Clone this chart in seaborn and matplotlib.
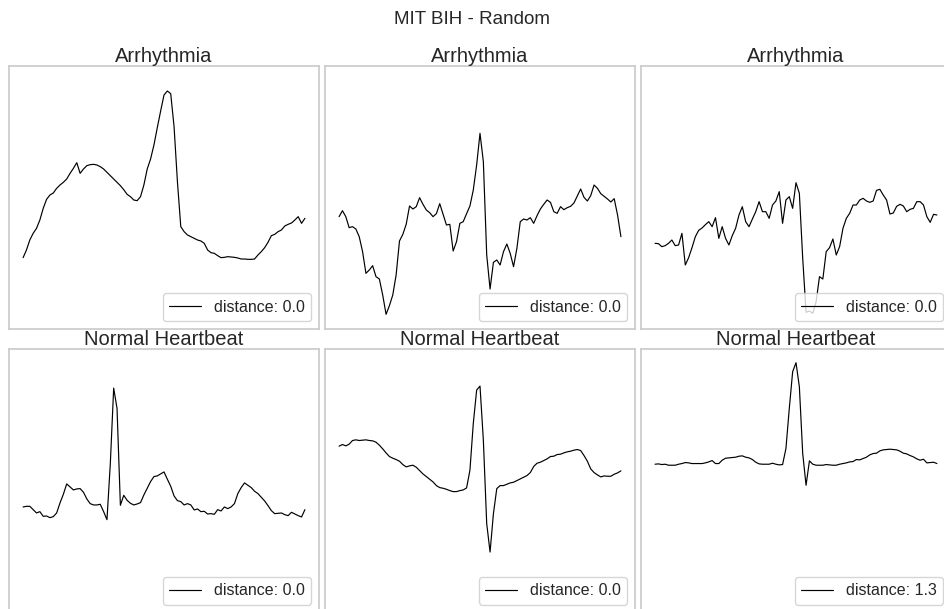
import numpy as np
import matplotlib
matplotlib.use("Agg")
import matplotlib.pyplot as plt
import seaborn as sns

# ---------------- data (amplitudes, arbitrary normalised units) ----------------
suptitle = "MIT BIH - Random"
titles = ["Arrhythmia", "Arrhythmia", "Arrhythmia",
          "Normal Heartbeat", "Normal Heartbeat", "Normal Heartbeat"]
distances = ["0.0", "0.0", "0.0", "0.0", "0.0", "1.3"]

arrhythmia_1 = np.array([
    222, 245, 275, 295, 310, 335, 370, 397, 410, 416, 430, 440, 448, 458, 475, 490,
    507, 475, 488, 498, 501, 502, 500, 495, 488, 478, 468, 458, 448, 438, 426, 412,
    405, 395, 393, 405, 440, 488, 518, 560, 612, 662, 710, 722, 714, 615, 450, 315,
    300, 290, 285, 280, 275, 272, 265, 245, 237, 235, 228, 222, 223, 225, 224, 223,
    221, 218, 218, 217, 217, 218, 230, 240, 252, 268, 288, 292, 300, 305, 317, 322,
    326, 335, 345, 325, 340]) / 1000

arrhythmia_2 = np.array([
    345, 363, 345, 312, 315, 308, 285, 240, 175, 185, 198, 165, 158, 110, 52, 78,
    110, 170, 272, 292, 322, 377, 368, 375, 402, 382, 365, 357, 345, 354, 384, 352,
    320, 322, 242, 270, 325, 330, 354, 377, 425, 500, 595, 510, 230, 128, 208, 215,
    200, 240, 263, 235, 195, 250, 330, 338, 335, 342, 325, 348, 368, 382, 395, 388,
    360, 355, 375, 366, 372, 376, 386, 407, 428, 403, 392, 408, 440, 430, 414, 406,
    398, 389, 399, 350, 285]) / 1000

arrhythmia_3 = np.array([
    265, 264, 255, 258, 265, 275, 258, 260, 295, 200, 222, 252, 285, 304, 311, 321,
    330, 315, 342, 280, 315, 280, 260, 288, 310, 350, 375, 330, 315, 338, 360, 390,
    360, 360, 340, 380, 392, 420, 325, 395, 405, 370, 447, 415, 220, 58, 62, 55,
    90, 165, 158, 240, 252, 278, 230, 255, 310, 340, 355, 380, 380, 395, 400, 392,
    388, 392, 424, 427, 410, 395, 353, 356, 376, 382, 377, 360, 367, 370, 390, 390,
    380, 345, 328, 352, 350]) / 1000

normal_1 = np.array([
    330, 332, 332, 322, 312, 316, 302, 303, 298, 301, 312, 342, 368, 399, 390, 381,
    384, 385, 374, 354, 340, 336, 336, 338, 316, 292, 460, 686, 625, 335, 365, 350,
    341, 336, 339, 343, 366, 386, 406, 421, 423, 429, 435, 413, 392, 363, 349, 346,
    336, 340, 336, 321, 324, 316, 317, 309, 310, 308, 322, 318, 330, 325, 330, 340,
    370, 388, 402, 395, 388, 377, 370, 359, 348, 334, 319, 310, 311, 312, 307, 304,
    314, 309, 304, 300, 322]) / 1000

normal_2 = np.array([
    512, 517, 513, 518, 529, 531, 529, 530, 531, 529, 528, 524, 515, 504, 492, 481,
    476, 472, 467, 457, 450, 453, 455, 449, 439, 429, 421, 413, 405, 394, 388, 386,
    383, 379, 376, 376, 379, 381, 387, 440, 580, 680, 692, 530, 280, 195, 310, 385,
    394, 394, 398, 402, 404, 409, 414, 419, 424, 433, 451, 461, 464, 469, 474, 481,
    482, 487, 488, 492, 495, 497, 500, 502, 499, 484, 467, 444, 433, 426, 420, 423,
    422, 422, 428, 432, 438]) / 1000

normal_3 = np.array([
    458, 459, 457, 458, 455, 455, 455, 458, 460, 463, 462, 460, 460, 460, 460, 462,
    465, 469, 460, 460, 470, 476, 477, 478, 479, 482, 483, 479, 477, 472, 464, 459,
    458, 458, 458, 461, 458, 456, 457, 505, 625, 735, 762, 690, 490, 395, 468, 458,
    455, 455, 455, 457, 456, 455, 455, 458, 460, 462, 465, 466, 472, 471, 475, 479,
    486, 490, 491, 498, 501, 502, 503, 502, 501, 497, 491, 489, 484, 480, 474, 470,
    473, 462, 463, 464, 460]) / 1000

signals = [arrhythmia_1, arrhythmia_2, arrhythmia_3, normal_1, normal_2, normal_3]
row_ylims = [(0.008, 0.7985), (0.014, 0.803)]

# ---------------- style ----------------
sns.set_theme(context="notebook", style="whitegrid")
plt.rcParams["font.family"] = ["Liberation Sans", "DejaVu Sans"]

W, H = 945, 609
fig = plt.figure(figsize=(W / 100, H / 100), dpi=100)

col_left = [9, 325, 641]
row_top = [65.5, 349]
ax_w, ax_h = 310, 263.5

for k, sig in enumerate(signals):
    r, c = divmod(k, 3)
    left = col_left[c] / W
    bottom = 1 - (row_top[r] + ax_h) / H
    ax = fig.add_axes([left, bottom, ax_w / W, ax_h / H])
    t = np.arange(len(sig))
    sns.lineplot(x=t, y=sig, ax=ax, color="black", linewidth=0.85,
                 label=f"distance: {distances[k]}")
    ax.set_ylim(*row_ylims[r])
    ax.set_xticks([])
    ax.set_yticks([])
    ax.grid(False)
    ax.set_title(titles[k], fontsize=14.5, color=".15", pad=2.5)
    ax.legend(loc="lower right", fontsize=11.5)

fig.suptitle(suptitle, fontsize=13.5, y=1 - 20 / H, va="center", color=".15")
fig.savefig("out.png", dpi=100)
